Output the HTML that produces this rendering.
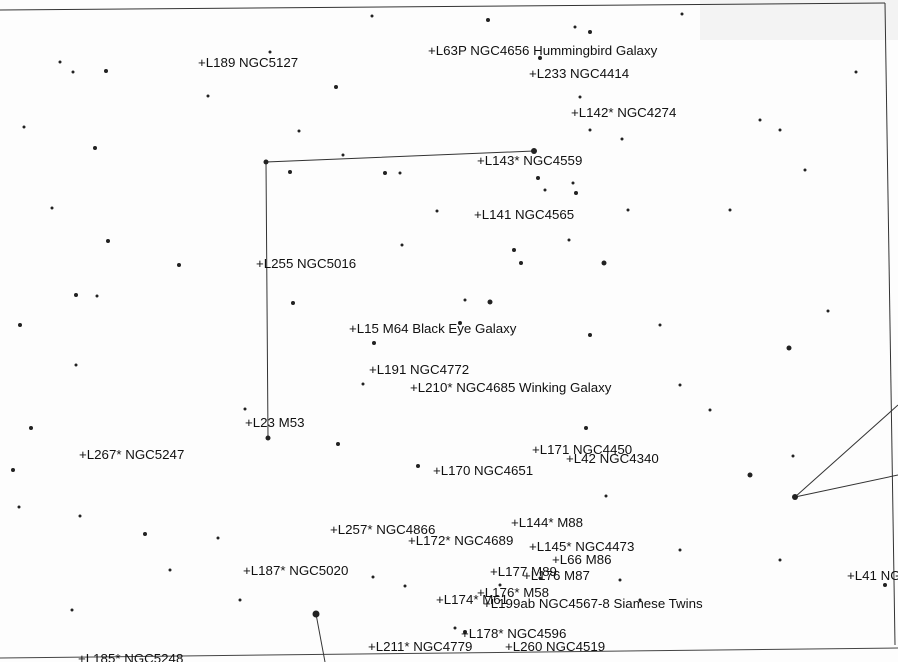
<!DOCTYPE html>
<html><head><meta charset="utf-8"><style>
html,body{margin:0;padding:0;background:#fff}
#c{position:relative;width:898px;height:662px;overflow:hidden;background:#fdfdfd;font-family:"Liberation Sans",sans-serif;font-size:13.3px;color:#111}
.t{position:absolute;white-space:nowrap;line-height:13px}
svg{position:absolute;left:0;top:0}
</style></head><body><div id="c">
<svg width="898" height="662">
<rect x="700" y="0" width="198" height="40" fill="#f3f3f3"/>
<line x1="0" y1="10" x2="885" y2="3" stroke="#333" stroke-width="1"/>
<line x1="885" y1="3" x2="895" y2="645" stroke="#333" stroke-width="1"/>
<line x1="0" y1="658" x2="898" y2="648" stroke="#444" stroke-width="1"/>
<g stroke="#333" stroke-width="1" fill="none">
<polyline points="268,438 266,162 534,151"/>
<line x1="795" y1="497" x2="898" y2="405"/>
<line x1="795" y1="497" x2="898" y2="475"/>
<line x1="316" y1="614" x2="325" y2="662"/>
</g>
<g fill="#222">
<circle cx="266" cy="162" r="2.5"/><circle cx="534" cy="151" r="3"/><circle cx="268" cy="438" r="2.5"/>
<circle cx="795" cy="497" r="3"/><circle cx="316" cy="614" r="3.5"/>
<circle cx="106" cy="71" r="2"/><circle cx="60" cy="62" r="1.5"/><circle cx="73" cy="72" r="1.5"/>
<circle cx="336" cy="87" r="2"/><circle cx="208" cy="96" r="1.5"/><circle cx="270" cy="52" r="1.5"/>
<circle cx="372" cy="16" r="1.5"/><circle cx="488" cy="20" r="2"/><circle cx="575" cy="27" r="1.5"/>
<circle cx="590" cy="32" r="2"/><circle cx="682" cy="14" r="1.5"/><circle cx="540" cy="58" r="2"/>
<circle cx="580" cy="97" r="1.5"/><circle cx="590" cy="130" r="1.5"/><circle cx="622" cy="139" r="1.5"/>
<circle cx="95" cy="148" r="2"/><circle cx="299" cy="131" r="1.5"/><circle cx="343" cy="155" r="1.5"/>
<circle cx="385" cy="173" r="2"/><circle cx="400" cy="173" r="1.5"/><circle cx="290" cy="172" r="2"/>
<circle cx="538" cy="178" r="2"/><circle cx="545" cy="190" r="1.5"/><circle cx="573" cy="183" r="1.5"/>
<circle cx="576" cy="193" r="2"/><circle cx="437" cy="211" r="1.5"/><circle cx="628" cy="210" r="1.5"/>
<circle cx="52" cy="208" r="1.5"/><circle cx="108" cy="241" r="2"/><circle cx="179" cy="265" r="2"/>
<circle cx="402" cy="245" r="1.5"/><circle cx="514" cy="250" r="2"/><circle cx="521" cy="263" r="2"/>
<circle cx="604" cy="263" r="2.5"/><circle cx="569" cy="240" r="1.5"/><circle cx="76" cy="295" r="2"/>
<circle cx="97" cy="296" r="1.5"/><circle cx="20" cy="325" r="2"/><circle cx="293" cy="303" r="2"/>
<circle cx="490" cy="302" r="2.5"/><circle cx="465" cy="300" r="1.5"/><circle cx="374" cy="343" r="2"/>
<circle cx="460" cy="323" r="2"/><circle cx="590" cy="335" r="2"/><circle cx="660" cy="325" r="1.5"/>
<circle cx="789" cy="348" r="2.5"/><circle cx="828" cy="311" r="1.5"/><circle cx="76" cy="365" r="1.5"/>
<circle cx="363" cy="384" r="1.5"/><circle cx="31" cy="428" r="2"/><circle cx="245" cy="409" r="1.5"/>
<circle cx="338" cy="444" r="2"/><circle cx="418" cy="466" r="2"/><circle cx="586" cy="428" r="2"/>
<circle cx="750" cy="475" r="2.5"/><circle cx="793" cy="456" r="1.5"/><circle cx="13" cy="470" r="2"/>
<circle cx="145" cy="534" r="2"/><circle cx="80" cy="516" r="1.5"/><circle cx="19" cy="507" r="1.5"/>
<circle cx="218" cy="538" r="1.5"/><circle cx="373" cy="577" r="1.5"/><circle cx="405" cy="586" r="1.5"/>
<circle cx="500" cy="585" r="1.5"/><circle cx="540" cy="578" r="1.5"/><circle cx="606" cy="496" r="1.5"/>
<circle cx="885" cy="585" r="2"/><circle cx="72" cy="610" r="1.5"/><circle cx="465" cy="632" r="2"/>
<circle cx="455" cy="628" r="1.5"/><circle cx="856" cy="72" r="1.5"/><circle cx="24" cy="127" r="1.5"/>
<circle cx="760" cy="120" r="1.5"/><circle cx="780" cy="130" r="1.5"/><circle cx="805" cy="170" r="1.5"/>
<circle cx="680" cy="385" r="1.5"/><circle cx="710" cy="410" r="1.5"/><circle cx="730" cy="210" r="1.5"/>
<circle cx="240" cy="600" r="1.5"/><circle cx="170" cy="570" r="1.5"/><circle cx="680" cy="550" r="1.5"/>
<circle cx="780" cy="560" r="1.5"/><circle cx="640" cy="600" r="1.5"/><circle cx="620" cy="580" r="1.5"/>
</g>
</svg>
<div class="t" style="left:428px;top:44px">+L63P NGC4656 Hummingbird Galaxy</div>
<div class="t" style="left:198px;top:56px">+L189 NGC5127</div>
<div class="t" style="left:529px;top:67px">+L233 NGC4414</div>
<div class="t" style="left:571px;top:106px">+L142* NGC4274</div>
<div class="t" style="left:477px;top:154px">+L143* NGC4559</div>
<div class="t" style="left:474px;top:208px">+L141 NGC4565</div>
<div class="t" style="left:256px;top:257px">+L255 NGC5016</div>
<div class="t" style="left:349px;top:322px">+L15 M64 Black Eye Galaxy</div>
<div class="t" style="left:369px;top:363px">+L191 NGC4772</div>
<div class="t" style="left:410px;top:381px">+L210* NGC4685 Winking Galaxy</div>
<div class="t" style="left:245px;top:416px">+L23 M53</div>
<div class="t" style="left:532px;top:443px">+L171 NGC4450</div>
<div class="t" style="left:566px;top:452px">+L42 NGC4340</div>
<div class="t" style="left:79px;top:448px">+L267* NGC5247</div>
<div class="t" style="left:433px;top:464px">+L170 NGC4651</div>
<div class="t" style="left:511px;top:516px">+L144* M88</div>
<div class="t" style="left:330px;top:523px">+L257* NGC4866</div>
<div class="t" style="left:408px;top:534px">+L172* NGC4689</div>
<div class="t" style="left:529px;top:540px">+L145* NGC4473</div>
<div class="t" style="left:552px;top:553px">+L66 M86</div>
<div class="t" style="left:243px;top:564px">+L187* NGC5020</div>
<div class="t" style="left:490px;top:565px">+L177 M89</div>
<div class="t" style="left:523px;top:569px">+L176 M87</div>
<div class="t" style="left:847px;top:569px">+L41 NG</div>
<div class="t" style="left:477px;top:586px">+L176* M58</div>
<div class="t" style="left:436px;top:593px">+L174* M61</div>
<div class="t" style="left:483px;top:597px">+L199ab NGC4567-8 Siamese Twins</div>
<div class="t" style="left:461px;top:627px">+L178* NGC4596</div>
<div class="t" style="left:368px;top:640px">+L211* NGC4779</div>
<div class="t" style="left:505px;top:640px">+L260 NGC4519</div>
<div class="t" style="left:78px;top:652px">+L185* NGC5248</div>
</div></body></html>
